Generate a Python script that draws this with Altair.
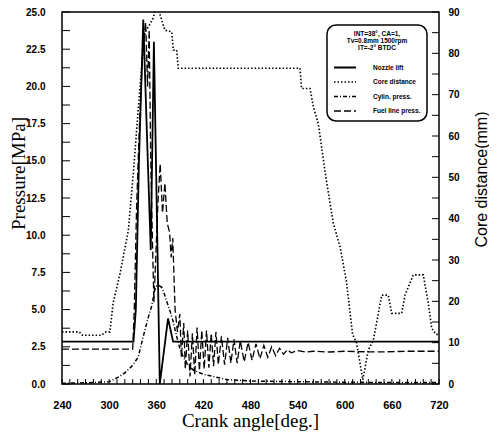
import altair as alt
import pandas as pd

# ---------------- data ----------------
series_names = ["Nozzle lift", "Core distance", "Cylin. press.", "Fuel line press."]

nozzle_angle = [240, 331, 334, 338, 343.5, 348, 353, 357, 364.5, 375, 381.5, 720]
nozzle_lift = [2.85, 2.85, 5.0, 15.0, 24.5, 17.0, 9.0, 23.0, 0.0, 4.4, 2.85, 2.85]

core_angle = [240, 262, 266, 290, 296, 301, 305, 314, 324.5, 330.8, 337, 342, 345.7, 350,
              356, 359, 363, 367, 371, 379.7, 381.7, 386, 388, 543, 545, 555.8, 560, 566.3,
              576, 585.4, 594, 602, 610, 615, 623, 630, 636.4, 642.8, 647, 655.4, 659.8,
              672.5, 676.7, 687.3, 700, 706.4, 710.7, 716, 720]
core_dist = [12.6, 12.6, 11.8, 11.8, 12.6, 12.6, 19.5, 26.8, 37.2, 51, 66.3, 78, 85.2, 86.4,
             88.5, 90.5, 90.5, 88, 85.6, 85.2, 80.8, 80.8, 76.4, 76.4, 71.5, 71.5, 67.1, 63,
             50, 38.9, 33.2, 25, 12, 10, 1.0, 8.2, 10.6, 17.1, 21.5, 21.5, 17.1,
             17.1, 21.5, 26.4, 26.4, 19.5, 13.5, 12, 12]

cyl_angle = [240, 270, 300, 313, 320, 329, 337, 343.5, 350, 354, 358, 361, 364, 367, 370, 373,
             377.5, 381, 386, 390, 394.5, 400, 407, 420, 433, 450, 480, 540, 600, 660, 720]
cyl_press = [0.05, 0.08, 0.15, 0.5, 0.75, 1.2, 1.8, 3.2, 4.5, 5.2, 6.3, 6.6, 6.6, 6.5, 6.1, 5.6,
             4.9, 4.3, 3.2, 2.4, 1.8, 1.3, 0.94, 0.65, 0.5, 0.3, 0.2, 0.15, 0.12, 0.1, 0.1]

fuel_angle = [240, 330, 332, 335, 339, 343, 346.5, 349, 351, 353, 355, 357, 359, 362, 365, 368,
              371, 374, 377, 379, 381, 384, 387, 390, 392, 395, 397, 400, 403, 406, 409, 412,
              415, 418, 421, 424, 427, 430, 433, 436, 439, 443, 447, 451, 455, 459, 463, 467,
              472, 477, 482, 487, 492, 497, 502, 507, 512, 517, 522, 527, 532, 540, 550, 560,
              580, 600, 640, 680, 720]
fuel_press = [2.35, 2.35, 5, 12, 18, 22.5, 24.3, 20, 23.8, 15, 10, 5.5, 8, 12, 14.8, 11.5,
              13.5, 10.8, 10.2, 8.5, 9.8, 5, 3.5, 4.7, 1.8, 4.1, 1.0, 3.6, 0.5, 3.4, 0.6, 3.8,
              0.9, 3.6, 1.0, 3.6, 1.1, 3.4, 1.2, 3.5, 1.3, 3.2, 1.3, 3.1, 1.4, 3.0, 1.4, 2.9,
              1.5, 2.8, 1.6, 2.7, 1.7, 2.6, 1.8, 2.5, 1.9, 2.4, 2.0, 2.3, 2.1, 2.25, 2.15, 2.2,
              2.15, 2.2, 2.15, 2.2, 2.2]

x_labels = [240, 300, 360, 420, 480, 540, 600, 660, 720]
left_labels = [0, 2.5, 5, 7.5, 10, 12.5, 15, 17.5, 20, 22.5, 25]
right_labels = [0, 10, 20, 30, 40, 50, 60, 70, 80, 90]
left_minor = [0, 1.25, 2.5, 3.75, 5, 6.25, 7.5, 8.75, 10, 11.25, 12.5, 13.75, 15, 16.25,
              17.5, 18.75, 20, 21.25, 22.5, 23.75, 25]
right_minor = [0, 5, 10, 15, 20, 25, 30, 35, 40, 45, 50, 55, 60, 65, 70, 75, 80, 85, 90]
bottom_minor = [240, 250, 260, 270, 280, 290, 300, 310, 320, 330, 340, 350, 360, 370, 380,
                390, 400, 410, 420, 430, 440, 450, 460, 470, 480, 490, 500, 510, 520, 530,
                540, 550, 560, 570, 580, 590, 600, 610, 620, 630, 640, 650, 660, 670, 680,
                690, 700, 710, 720]

legend_title = ["INT=38°, CA=1,", "Tv=0.8mm 1500rpm", "IT=-2° BTDC"]

# ---------------- tables ----------------
def make_df(name, angs, vals):
    return pd.DataFrame({"angle": angs, "value": vals, "series": name})

left_df = pd.concat([
    make_df("Nozzle lift", nozzle_angle, nozzle_lift),
    make_df("Cylin. press.", cyl_angle, cyl_press),
    make_df("Fuel line press.", fuel_angle, fuel_press),
], ignore_index=True)
right_df = make_df("Core distance", core_angle, core_dist)

W, H = 377, 372

x_scale = alt.Scale(domain=[240, 720], nice=False, zero=False)
yl_scale = alt.Scale(domain=[0, 25], nice=False)
yr_scale = alt.Scale(domain=[0, 90], nice=False)
dash_scale = alt.Scale(domain=series_names, range=[[1, 0], [1.5, 2], [4, 2, 1, 2], [7, 3]])
width_scale = alt.Scale(domain=series_names, range=[1.8, 1.3, 1.3, 1.4])

x_axis = alt.Axis(values=x_labels, title="Crank angle[deg.]", titleFont="Liberation Serif",
                  titleFontSize=19, titleFontWeight="normal", titleColor="black",
                  titleX=188, titleY=42, titleBaseline="alphabetic", titleAlign="center",
                  labelFont="Liberation Sans", labelFontSize=11, labelFontWeight="bold",
                  labelColor="black", labelPadding=15, labelFlush=False,
                  ticks=False, tickSize=0, domain=False, grid=False)
yl_axis = alt.Axis(values=left_labels, format=".1f", title="Pressure[MPa]",
                   titleFont="Liberation Serif", titleFontSize=19, titleFontWeight="normal",
                   titleColor="black", titleAngle=270, titleBaseline="top", titleAlign="center",
                   titleX=-53, titleY=161,
                   labelFont="Liberation Sans", labelFontSize=10, labelFontWeight="bold",
                   labelColor="black", labelPadding=17,
                   ticks=False, tickSize=0, domain=False, grid=False)
yr_axis = alt.Axis(values=right_labels, orient="right", title="Core distance(mm)",
                   titleFont="Liberation Sans", titleFontSize=16, titleFontWeight="normal",
                   titleColor="black", titleAngle=270, titleBaseline="top", titleAlign="center",
                   titleX=34, titleY=167,
                   labelFont="Liberation Sans", labelFontSize=10, labelFontWeight="bold",
                   labelColor="black", labelPadding=9,
                   ticks=False, tickSize=0, domain=False, grid=False)

legend = alt.Legend(
    title=legend_title, orient="none", legendX=265, legendY=13, direction="vertical",
    fillColor="white", strokeColor="black", cornerRadius=9, padding=6,
    titleFont="Liberation Sans", titleFontSize=6.5, titleFontWeight="bold", titleColor="black",
    titleAnchor="middle", titleAlign="center", titleLineHeight=7, titlePadding=10,
    labelFont="Liberation Sans", labelFontSize=6.5, labelFontWeight="bold", labelColor="black",
    labelOffset=22, symbolType="M-2.2,0L2.2,0", symbolSize=100, symbolOffset=6,
    symbolStrokeWidth=1.1, symbolStrokeColor="black", symbolFillColor="transparent",
    rowPadding=4.5,
)

left_lines = alt.Chart(left_df).mark_line(clip=True, color="black").encode(
    x=alt.X("angle:Q", scale=x_scale, axis=x_axis),
    y=alt.Y("value:Q", scale=yl_scale, axis=yl_axis),
    strokeDash=alt.StrokeDash("series:N", scale=dash_scale, legend=legend),
    strokeWidth=alt.StrokeWidth("series:N", scale=width_scale, legend=None),
    detail="series:N",
)
left_ticks = alt.Chart(pd.DataFrame({"value": left_minor})).mark_rule(color="black", strokeWidth=1).encode(
    y=alt.Y("value:Q", scale=yl_scale, axis=yl_axis), x=alt.value(0), x2=alt.value(8))
bottom_ticks = alt.Chart(pd.DataFrame({"angle": bottom_minor})).mark_rule(color="black", strokeWidth=1).encode(
    x=alt.X("angle:Q", scale=x_scale, axis=x_axis), y=alt.value(H - 5), y2=alt.value(H))

core_line = alt.Chart(right_df).mark_line(clip=True, color="black").encode(
    x=alt.X("angle:Q", scale=x_scale, axis=x_axis),
    y=alt.Y("value:Q", scale=yr_scale, axis=yr_axis),
    strokeDash=alt.StrokeDash("series:N", scale=dash_scale, legend=legend),
    strokeWidth=alt.StrokeWidth("series:N", scale=width_scale, legend=None),
)
right_ticks = alt.Chart(pd.DataFrame({"value": right_minor})).mark_rule(color="black", strokeWidth=1).encode(
    y=alt.Y("value:Q", scale=yr_scale, axis=yr_axis), x=alt.value(W - 7), x2=alt.value(W))

left_group = alt.layer(left_lines, left_ticks, bottom_ticks)
right_group = alt.layer(core_line, right_ticks)

chart = alt.layer(left_group, right_group).resolve_scale(y="independent").properties(
    width=W, height=H,
    autosize=alt.AutoSizeParams(type="none"),
    padding={"left": 54, "top": 4, "right": 50, "bottom": 48},
    background="white",
).configure_view(stroke="black", strokeWidth=1.5).configure_legend(strokeWidth=1.5)

chart.save("out.html", embed_options={"renderer": "svg", "actions": False})
